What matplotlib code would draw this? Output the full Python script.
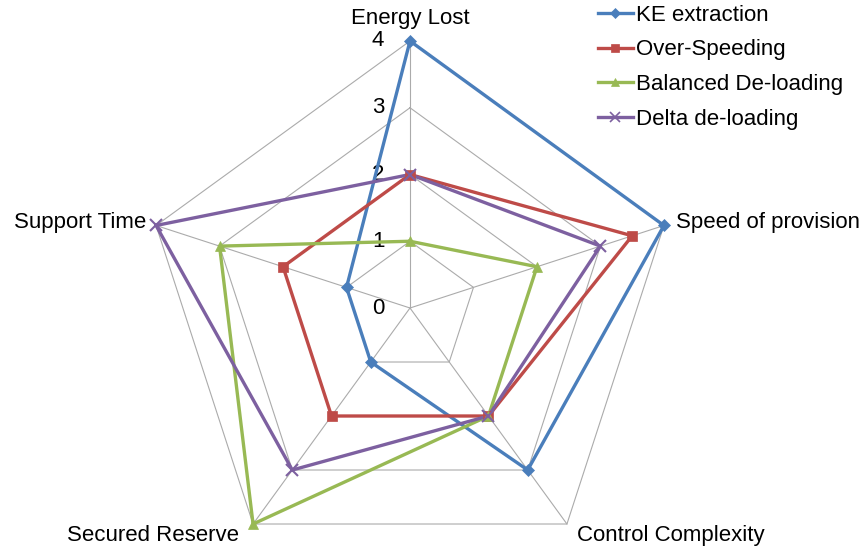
import numpy as np
import matplotlib

matplotlib.use("Agg")
import matplotlib.pyplot as plt

plt.rcParams["font.family"] = ["Liberation Sans", "DejaVu Sans"]

# Radar categories, clockwise from the top
categories = ["Energy Lost", "Speed of provision", "Control Complexity",
              "Secured Reserve", "Support Time"]

ke_extraction = [4, 4, 3, 1, 1]
over_speeding = [2, 3.5, 2, 2, 2]
balanced_deloading = [1, 2, 2, 4, 3]
delta_deloading = [2, 3, 2, 3, 4]

series_names = ["KE extraction", "Over-Speeding", "Balanced De-loading",
                "Delta de-loading"]
series_values = [ke_extraction, over_speeding, balanced_deloading, delta_deloading]
series_colors = ["#4A7EBB", "#BE4B48", "#98B954", "#7D60A0"]
series_markers = ["D", "s", "^", "x"]
series_msize = [6.5, 7, 7.5, 9]

rings = [1, 2, 3, 4]
ring_labels = ["0", "1", "2", "3", "4"]

angles = np.pi / 2 - np.arange(len(categories)) * 2 * np.pi / len(categories)


def to_xy(values):
    v = np.asarray(values, dtype=float)
    return v * np.cos(angles), v * np.sin(angles)


fig = plt.figure(figsize=(8.66, 5.52), dpi=100, facecolor="white")
ax = fig.add_axes([0, 0, 1, 1])
scale = 66.75  # pixels per unit
ax.set_xlim(-410 / scale, (866 - 410) / scale)
ax.set_ylim(-244 / scale, 308 / scale)
ax.axis("off")

grid_color = "#ABABAB"
for r in rings:
    gx, gy = to_xy([r] * len(categories))
    ax.plot(np.append(gx, gx[0]), np.append(gy, gy[0]), color=grid_color, lw=0.8, zorder=1)
sx, sy = to_xy([rings[-1]] * len(categories))
for x, y in zip(sx, sy):
    ax.plot([0, x], [0, y], color=grid_color, lw=0.8, zorder=1)

# value labels along the top spoke
for i, lab in enumerate(ring_labels):
    ax.text(-32 / scale, i, lab, fontsize=16, ha="center", va="center", zorder=2)

for name, vals, col, mk, ms in zip(series_names, series_values, series_colors,
                                   series_markers, series_msize):
    x, y = to_xy(vals)
    ax.plot(np.append(x, x[0]), np.append(y, y[0]), color=col, lw=2.4, zorder=3)
    ax.plot(x, y, linestyle="none", marker=mk, color=col, markersize=ms,
            markeredgewidth=1.5 if mk == "x" else 0.5, zorder=4)
    ax.plot([], [], color=col, lw=2.4, marker=mk, markersize=ms * 0.85,
            markeredgewidth=1.2 if mk == "x" else 0.5, label=name)

# category labels
lx, ly = to_xy([4] * len(categories))
label_pos = [
    (lx[0], ly[0] + 12 / scale, "center", "bottom"),
    (lx[1] + 12 / scale, ly[1] + 3 / scale, "left", "center"),
    (lx[2] + 10 / scale, ly[2] - 11 / scale, "left", "center"),
    (lx[3] - 14 / scale, ly[3] - 11 / scale, "right", "center"),
    (lx[4] - 10 / scale, ly[4] + 3 / scale, "right", "center"),
]
for cat, (x, y, ha, va) in zip(categories, label_pos):
    ax.text(x, y, cat, fontsize=16, ha=ha, va=va)

ax.legend(loc="upper left", bbox_to_anchor=(582 / 866, 1.02), frameon=False,
          fontsize=16, handlelength=1.6, handletextpad=0.12, labelspacing=0.62,
          borderpad=0.2)

fig.savefig("out.png", dpi=100, facecolor="white")
